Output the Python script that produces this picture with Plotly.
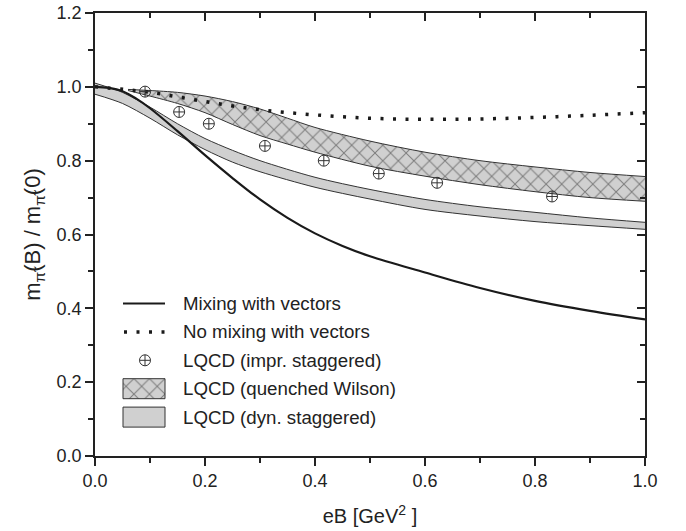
import plotly.graph_objects as go

# ---- data ----
mix_x = [0, 0.025, 0.05, 0.075, 0.1, 0.15, 0.2, 0.25, 0.3, 0.35, 0.4, 0.45, 0.5, 0.6, 0.7, 0.8, 0.9, 1.0]
mix_y = [1.0, 0.997, 0.988, 0.968, 0.942, 0.88, 0.815, 0.753, 0.695, 0.645, 0.603, 0.569, 0.541, 0.497, 0.455, 0.42, 0.393, 0.37]

nomix_x = [0, 0.1, 0.2, 0.3, 0.4, 0.5, 0.6, 0.7, 0.8, 0.9, 1.0]
nomix_y = [1.0, 0.985, 0.96, 0.938, 0.924, 0.915, 0.912, 0.913, 0.917, 0.923, 0.93]

impr_x = [0.091, 0.153, 0.207, 0.309, 0.416, 0.516, 0.622, 0.831]
impr_y = [0.987, 0.932, 0.90, 0.84, 0.80, 0.765, 0.74, 0.703]

wil_x = [0.06, 0.1, 0.15, 0.2, 0.25, 0.3, 0.35, 0.4, 0.5, 0.6, 0.7, 0.8, 0.9, 1.0]
wil_hi = [0.993, 0.99, 0.985, 0.975, 0.96, 0.94, 0.915, 0.89, 0.853, 0.823, 0.80, 0.783, 0.768, 0.757]
wil_lo = [0.99, 0.975, 0.955, 0.93, 0.898, 0.868, 0.845, 0.823, 0.785, 0.758, 0.735, 0.716, 0.70, 0.69]

dyn_x = [0, 0.05, 0.1, 0.15, 0.2, 0.25, 0.3, 0.4, 0.5, 0.6, 0.7, 0.8, 0.9, 1.0]
dyn_hi = [1.01, 0.985, 0.945, 0.90, 0.86, 0.828, 0.80, 0.755, 0.722, 0.695, 0.675, 0.66, 0.645, 0.633]
dyn_lo = [0.98, 0.955, 0.915, 0.87, 0.83, 0.796, 0.77, 0.728, 0.696, 0.668, 0.65, 0.635, 0.624, 0.614]

x_ticks = [0.0, 0.2, 0.4, 0.6, 0.8, 1.0]
y_ticks = [0.0, 0.2, 0.4, 0.6, 0.8, 1.0, 1.2]

legend_labels = ["Mixing with vectors", "No mixing with vectors", "LQCD (impr. staggered)",
                 "LQCD (quenched Wilson)", "LQCD (dyn. staggered)"]

FONT = "Liberation Sans, Arial, Helvetica, sans-serif"
INK = "#222222"
GRAY = "#d0d0d0"
EDGE = dict(color="#333333", width=1, shape="spline", smoothing=0.8)
HATCH = dict(shape="x", fgcolor="#262626", bgcolor=GRAY, size=11, solidity=0.17)

fig = go.Figure()

# dyn. staggered band (lower edge, then upper edge filled down to it)
fig.add_trace(go.Scatter(x=dyn_x, y=dyn_lo, mode="lines", line=EDGE,
                         showlegend=False, hoverinfo="skip"))
fig.add_trace(go.Scatter(x=dyn_x, y=dyn_hi, mode="lines", line=EDGE,
                         fill="tonexty", fillcolor=GRAY,
                         name=legend_labels[4], showlegend=False, hoverinfo="skip"))

# quenched Wilson band (cross-hatched)
fig.add_trace(go.Scatter(x=wil_x, y=wil_lo, mode="lines", line=EDGE,
                         showlegend=False, hoverinfo="skip"))
fig.add_trace(go.Scatter(x=wil_x, y=wil_hi, mode="lines", line=EDGE,
                         fill="tonexty", fillcolor=GRAY, fillpattern=HATCH,
                         name=legend_labels[3], showlegend=False, hoverinfo="skip"))

fig.add_trace(go.Scatter(
    x=mix_x, y=mix_y, mode="lines", line=dict(color="#1a1a1a", width=2.2, shape="spline"),
    name=legend_labels[0], showlegend=False))

DOT = dict(color="#1a1a1a", width=3.5, dash="3px,9.5px")
fig.add_trace(go.Scatter(
    x=nomix_x, y=nomix_y, mode="lines", line=dict(DOT, shape="spline"),
    name=legend_labels[1], showlegend=False))

MARK = dict(symbol="circle-cross-open", size=11, color="#333333", line=dict(width=1))
fig.add_trace(go.Scatter(
    x=impr_x, y=impr_y, mode="markers", marker=MARK,
    name=legend_labels[2], showlegend=False))

# helper trace for the mirrored (inside) ticks on top/right
fig.add_trace(go.Scatter(x=[None], y=[None], xaxis="x2", yaxis="y2", showlegend=False,
                         hoverinfo="skip"))

# ---- legend, drawn in an overlay axis measured in pixels of the plot area ----
ROW0, ROWSTEP = 303.5, 28.4
SYM_L, SYM_R, TXT_X, BOX_H = 123, 165, 181, 10
rows = [ROW0 + ROWSTEP * i for i in range(len(legend_labels))]
lk = dict(xaxis="x3", yaxis="y3", showlegend=False, hoverinfo="skip")
fig.add_trace(go.Scatter(x=[SYM_L, SYM_R], y=[rows[0]] * 2, mode="lines",
                         line=dict(color="#1a1a1a", width=2.2), **lk))
fig.add_trace(go.Scatter(x=[SYM_L + 1, SYM_R], y=[rows[1]] * 2, mode="lines", line=DOT, **lk))
fig.add_trace(go.Scatter(x=[(SYM_L + SYM_R) / 2 + 1], y=[rows[2]], mode="markers", marker=MARK, **lk))
for r, pat in ((rows[3], HATCH), (rows[4], None)):
    kw = dict(fillpattern=pat) if pat else {}
    fig.add_trace(go.Scatter(
        x=[SYM_L, SYM_R, SYM_R, SYM_L, SYM_L],
        y=[r - BOX_H, r - BOX_H, r + BOX_H, r + BOX_H, r - BOX_H],
        fill="toself", fillcolor=GRAY, mode="lines",
        line=dict(color="#333333", width=1), **kw, **lk))
for r, lab in zip(rows, legend_labels):
    fig.add_annotation(x=TXT_X, y=r, xref="x3", yref="y3", text=lab, showarrow=False,
                       xanchor="left", yanchor="middle", font=dict(size=18.7, color=INK))

axis_common = dict(showgrid=False, zeroline=False, linecolor=INK, linewidth=1.5,
                   tickcolor=INK, tickwidth=1.5, automargin=False)
minor_out = dict(ticks="outside", ticklen=5, dtick=0.1, tickcolor=INK, tickwidth=1.5)
minor_in = dict(ticks="inside", ticklen=5, dtick=0.1, tickcolor=INK, tickwidth=1.5)

fig.update_layout(
    width=686, height=531,
    margin=dict(l=95, r=41, t=13, b=75),
    paper_bgcolor="white", plot_bgcolor="white",
    font=dict(family=FONT, size=18, color=INK),
    showlegend=False,
    xaxis=dict(range=[0, 1], tickvals=x_ticks, ticktext=[f"{v:.1f}" for v in x_ticks],
               ticks="outside", ticklen=8, mirror=True, minor=minor_out,
               title=dict(text="eB [GeV<sup>2</sup> ]", font=dict(size=20), standoff=19),
               **axis_common),
    yaxis=dict(range=[0, 1.2], tickvals=y_ticks, ticktext=[f"{v:.1f}" for v in y_ticks],
               ticks="outside", ticklen=8, mirror=True, minor=minor_out,
               title=dict(text="m<sub>π̃</sub>(B) / m<sub>π̃</sub>(0)", font=dict(size=22), standoff=10),
               **axis_common),
    xaxis2=dict(range=[0, 1], overlaying="x", side="top", anchor="y2", showticklabels=False,
                tickvals=x_ticks, ticks="inside", ticklen=8, minor=minor_in, **axis_common),
    yaxis2=dict(range=[0, 1.2], overlaying="y", side="right", anchor="x2", showticklabels=False,
                tickvals=y_ticks, ticks="inside", ticklen=8, minor=minor_in, **axis_common),
    xaxis3=dict(range=[95, 645], overlaying="x", anchor="y3", visible=False, fixedrange=True),
    yaxis3=dict(range=[456, 13], overlaying="y", anchor="x3", visible=False, fixedrange=True),
)

fig.write_html("out.html")
